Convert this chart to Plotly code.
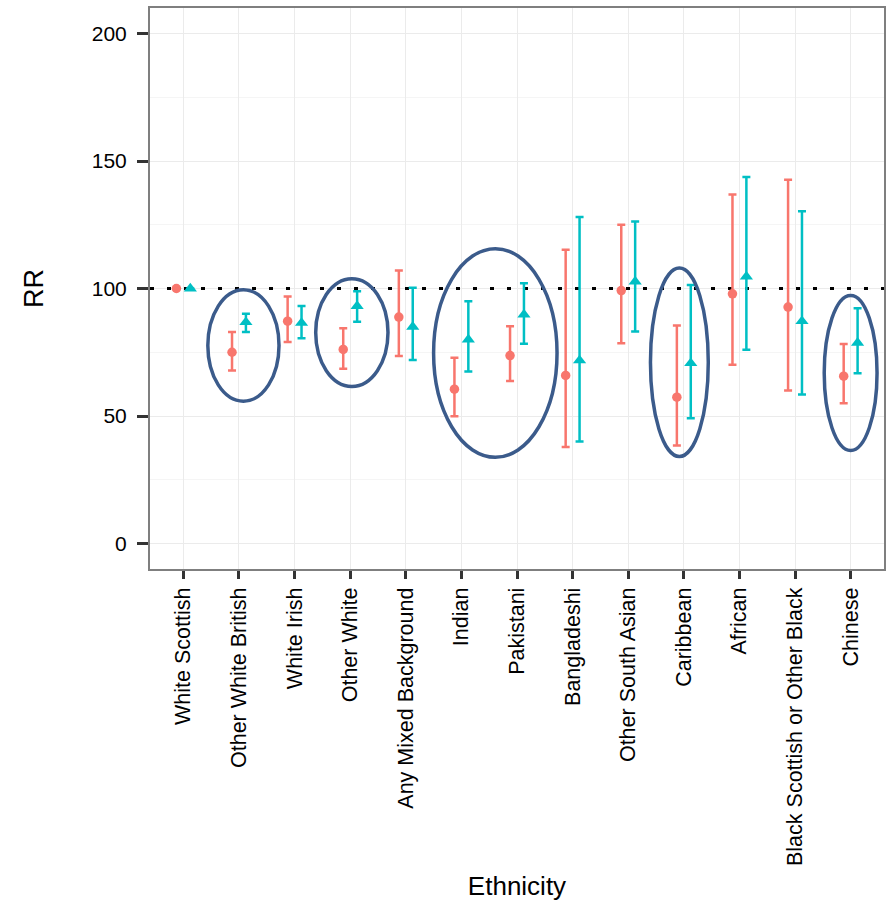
import plotly.graph_objects as go

categories = ["White Scottish", "Other White British", "White Irish", "Other White",
              "Any Mixed Background", "Indian", "Pakistani", "Bangladeshi",
              "Other South Asian", "Caribbean", "African",
              "Black Scottish or Other Black", "Chinese"]

red_rr = [100, 75.0, 87.2, 76.1, 88.8, 60.5, 73.7, 65.9, 99.2, 57.4, 97.9, 92.7, 65.6]
red_lo = [None, 67.8, 79.0, 68.5, 73.5, 49.9, 63.7, 37.8, 78.5, 38.4, 70.1, 60.0, 55.0]
red_hi = [None, 82.9, 96.9, 84.4, 107.1, 72.8, 85.2, 115.2, 125.0, 85.5, 136.9, 142.6, 78.2]

cyan_rr = [100, 86.8, 86.5, 93.1, 85.0, 80.0, 89.8, 71.8, 102.7, 70.7, 104.7, 87.2, 78.7]
cyan_lo = [None, 82.9, 80.5, 87.0, 72.0, 67.5, 78.3, 40.0, 83.1, 49.1, 76.0, 58.4, 66.8]
cyan_hi = [None, 90.1, 93.1, 98.9, 100.3, 95.0, 102.1, 128.0, 126.3, 101.4, 143.7, 130.3, 92.3]

y_ticks = [0, 50, 100, 150, 200]
reference_rr = 100

# highlighted groups: (x centre, half-width, y low, y high) in data units
ellipses = [(2.08, 0.64, 55.8, 99.5), (4.03, 0.65, 61.6, 103.8),
            (6.61, 1.11, 33.8, 115.6), (9.92, 0.52, 34.1, 108.0),
            (13.0, 0.475, 36.5, 97.3)]

RED = "#F8766D"
CYAN = "#00BFC4"
dodge = 0.125

idx = list(range(1, len(categories) + 1))


def errs(v, lo, hi):
    plus = [None if h is None else h - x for x, h in zip(v, hi)]
    minus = [None if l is None else x - l for x, l in zip(v, lo)]
    return plus, minus


fig = go.Figure()

rp, rm = errs(red_rr, red_lo, red_hi)
cp, cm = errs(cyan_rr, cyan_lo, cyan_hi)

fig.add_trace(go.Scatter(
    x=[0.4, 13.6], y=[reference_rr, reference_rr], mode="lines",
    line=dict(color="black", width=3, dash="4px,13px"),
    hoverinfo="skip", showlegend=False))

fig.add_trace(go.Scatter(
    x=[i - dodge for i in idx], y=red_rr, mode="markers",
    marker=dict(symbol="circle", size=9.5, color=RED),
    error_y=dict(type="data", array=rp, arrayminus=rm, color=RED,
                 thickness=2.5, width=4),
    showlegend=False))

fig.add_trace(go.Scatter(
    x=[i + dodge for i in idx], y=cyan_rr, mode="markers",
    marker=dict(symbol="triangle-up", size=11.5, color=CYAN),
    error_y=dict(type="data", array=cp, arrayminus=cm, color=CYAN,
                 thickness=2.5, width=4),
    showlegend=False))

for xc, hw, ylo, yhi in ellipses:
    fig.add_shape(type="circle", xref="x", yref="y",
                  x0=xc - hw, x1=xc + hw, y0=ylo, y1=yhi,
                  line=dict(color="#3B5B8B", width=3.5))

fig.update_layout(
    width=890, height=901,
    margin=dict(l=150, r=6, t=8, b=332),
    paper_bgcolor="white", plot_bgcolor="white",
    font=dict(family="Liberation Sans, Arial, sans-serif", color="black"),
    xaxis=dict(
        range=[0.4, 13.6], tickmode="array", tickvals=idx, ticktext=categories,
        tickangle=-90, tickfont=dict(size=21.5, color="black"),
        ticks="outside", ticklen=8, tickwidth=2.5, tickcolor="#333333",
        showgrid=True, gridcolor="#ebebeb", gridwidth=1.2,
        showline=True, linecolor="#7f7f7f", linewidth=2, mirror=True,
        zeroline=False, automargin=False,
        title=dict(text="Ethnicity", font=dict(size=26), standoff=16)),
    yaxis=dict(
        range=[-10, 210], tickmode="array", tickvals=y_ticks,
        tickfont=dict(size=21, color="black"),
        ticks="outside", ticklen=11, tickwidth=2.5, tickcolor="#333333",
        ticklabelstandoff=6,
        showgrid=True, gridcolor="#ebebeb", gridwidth=1.2,
        minor=dict(dtick=25, tick0=0, showgrid=True, gridcolor="#f5f5f5",
                   gridwidth=1, ticks=""),
        showline=True, linecolor="#7f7f7f", linewidth=2, mirror=True,
        zeroline=False, automargin=False,
        title=dict(text="RR", font=dict(size=27), standoff=40)),
)

fig.write_html("out.html")
